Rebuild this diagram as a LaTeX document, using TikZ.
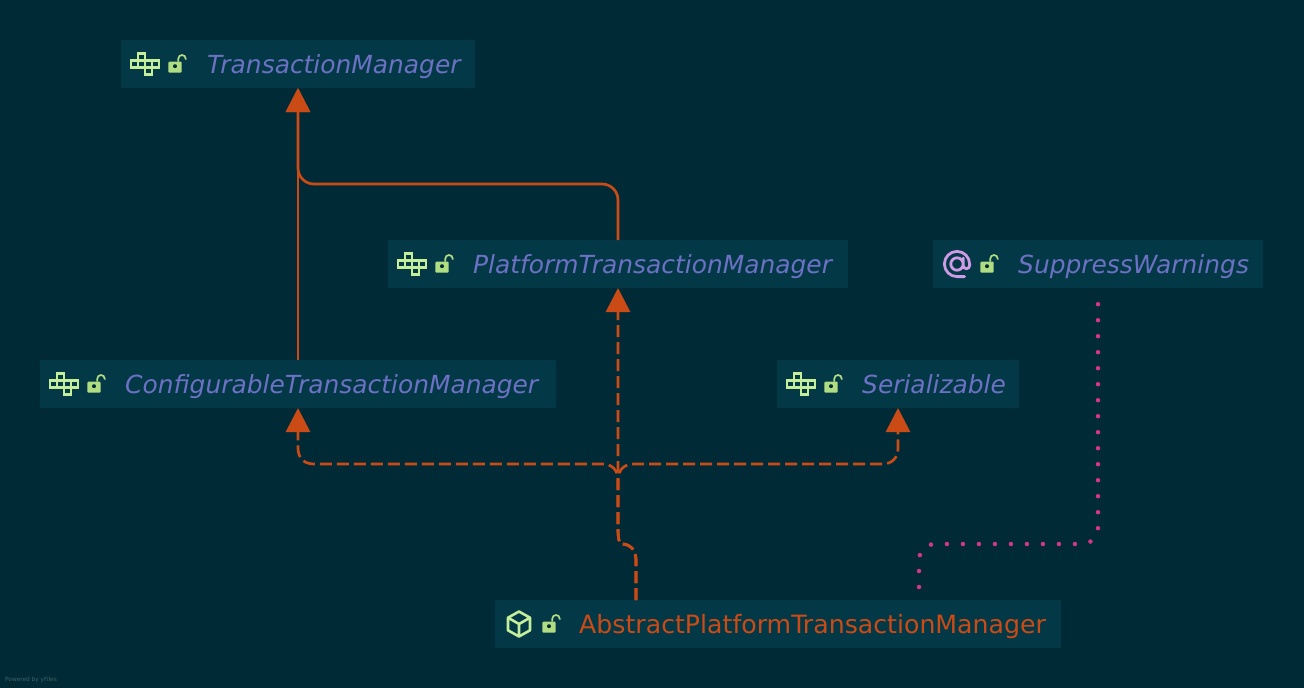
\documentclass[tikz,border=0pt]{standalone}
\usepackage{fontspec}
\setmainfont{DejaVu Sans}
\usetikzlibrary{positioning,arrows.meta}
\definecolor{bgdark}{HTML}{002B36}
\definecolor{boxteal}{HTML}{033847}
\definecolor{violetlabel}{HTML}{6C71C4}
\definecolor{orangeline}{HTML}{CB4B16}
\definecolor{pinkdots}{HTML}{D33682}
\definecolor{icongreen}{HTML}{C5EE9A}
\definecolor{lockgreen}{HTML}{B0DC82}
\definecolor{atviolet}{HTML}{CE9BE4}
\tikzstyle{typebox}   = [fill=boxteal, minimum height=48pt, inner sep=0pt, outer sep=0pt]
\tikzstyle{typename}  = [inner sep=0pt, text height=24pt, text depth=5.4pt, font=\fontsize{24.9pt}{28pt}\selectfont\itshape, text=violetlabel]
\tikzstyle{selfname}  = [inner sep=0pt, text height=24pt, text depth=5.4pt, font=\fontsize{25.2pt}{28pt}\selectfont, text=orangeline]
\tikzstyle{extends}   = [draw=orangeline, line width=2.7pt, -{Triangle[length=24pt,width=24pt,fill=orangeline]}]
\tikzstyle{implements}= [extends, dash pattern=on 12pt off 5pt]
\tikzstyle{annotated} = [draw=pinkdots, line width=4.5pt, line cap=round, dash pattern=on 0pt off 16pt, dash phase=3pt, shorten >=8pt]
\tikzset{
  ifaceicon/.pic={
    \draw[icongreen, line width=2.6pt]
      (-14,-3.6) rectangle (14,3.6)
      (-7,-3.6) -- (-7,3.6) (0,-3.6) -- (0,3.6) (7,-3.6) -- (7,3.6)
      (-7,-3.6) -- (-7,-10.6) -- (0,-10.6) -- (0,-3.6)
      (0,3.6) -- (0,10.6) -- (7,10.6) -- (7,3.6);
  },
  lockicon/.pic={
    \fill[lockgreen, rounded corners=1pt] (-6.7,-2.3) rectangle (6.7,8.7);
    \fill[bgdark] (0,2.2) circle (2);
    \draw[lockgreen, line width=1.7pt] (3.3,-2.3) -- (3.3,-5.3) arc (180:360:3.7) -- (10.7,-4.3);
  },
  aticon/.pic={
    \draw[atviolet, line width=2.8pt, line cap=round]
      (0,0) circle (6.2)
      (6.2,-6) -- (6.2,1.5) arc (180:0:3.2) -- (12.6,0)
      arc (0:-270:12.6) -- (7.5,12.6);
  },
  cubeicon/.pic={
    \draw[icongreen, line width=2.6pt, line join=round]
      (0,-12.5) -- (11,-6.3) -- (11,6.3) -- (0,12.5) -- (-11,6.3) -- (-11,-6.3) -- cycle
      (-11,-6.3) -- (0,0) -- (11,-6.3) (0,0) -- (0,12.5);
  }
}
\begin{document}
\begin{tikzpicture}[x=1pt,y=-1pt]
    \fill[bgdark] (0,0) rectangle (1304,688);
    \useasboundingbox (0,0) rectangle (1304,688);

    \node[typebox, minimum width=354pt] (txmanager) at (298,64) {};
    \node[typebox, minimum width=460pt] (platform) at (618,264) {};
    \node[typebox, minimum width=330pt] (suppress) at (1098,264) {};
    \node[typebox, minimum width=516pt] (configurable) at (298,384) {};
    \node[typebox, minimum width=242pt] (serializable) at (898,384) {};
    \node[typebox, minimum width=566pt] (abstractmgr) at (778,624) {};

    \node[typename, right=86pt of txmanager.west] (txmanagername) {TransactionManager};
    \node[typename, right=85pt of platform.west] (platformname) {PlatformTransactionManager};
    \node[typename, right=85pt of suppress.west] (suppressname) {SuppressWarnings};
    \node[typename, right=85pt of configurable.west] (configurablename) {ConfigurableTransactionManager};
    \node[typename, right=85pt of serializable.west] (serializablename) {Serializable};
    \node[selfname, right=84pt of abstractmgr.west] (abstractname) {AbstractPlatformTransactionManager};

    \pic at ([xshift=24pt]txmanager.west) {ifaceicon};
    \pic at ([xshift=54pt]txmanager.west) {lockicon};
    \pic at ([xshift=24pt]platform.west) {ifaceicon};
    \pic at ([xshift=54pt]platform.west) {lockicon};
    \pic at ([xshift=24pt]suppress.west) {aticon};
    \pic at ([xshift=54pt]suppress.west) {lockicon};
    \pic at ([xshift=24pt]configurable.west) {ifaceicon};
    \pic at ([xshift=54pt]configurable.west) {lockicon};
    \pic at ([xshift=24pt]serializable.west) {ifaceicon};
    \pic at ([xshift=54pt]serializable.west) {lockicon};
    \pic at ([xshift=24pt]abstractmgr.west) {cubeicon};
    \pic at ([xshift=54pt]abstractmgr.west) {lockicon};

    \draw[extends] (configurable.north) -- (txmanager.south);
    \draw[extends, rounded corners=16pt] (platform.north) |- (298,184) -- (txmanager.south);

    \draw[implements] ([xshift=-142pt]abstractmgr.north) -- (636,560)
        .. controls (636,550) and (630,544) .. (622,544)
        .. controls (619,544) and (618,538) .. (618,528) -- (platform.south);
    \draw[implements] ([xshift=-142pt]abstractmgr.north) -- (636,560)
        .. controls (636,550) and (630,544) .. (622,544)
        .. controls (619,544) and (618,538) .. (618,528) -- (618,480)
        .. controls (618,470) and (612,464) .. (602,464) -- (314,464)
        .. controls (304,464) and (298,458) .. (298,448) -- (configurable.south);
    \draw[implements] ([xshift=-142pt]abstractmgr.north) -- (636,560)
        .. controls (636,550) and (630,544) .. (622,544)
        .. controls (619,544) and (618,538) .. (618,528) -- (618,480)
        .. controls (618,470) and (624,464) .. (634,464) -- (882,464)
        .. controls (892,464) and (898,458) .. (898,448) -- (serializable.south);

    \draw[annotated, rounded corners=16pt] ([xshift=141pt]abstractmgr.north) |- (1098,544) -- (suppress.south);

    \node[anchor=west, inner sep=0pt, font=\fontsize{5.8pt}{7pt}\selectfont, text=white!25!bgdark] (poweredby) at (5,680) {Powered by yFiles};
\end{tikzpicture}
\end{document}
